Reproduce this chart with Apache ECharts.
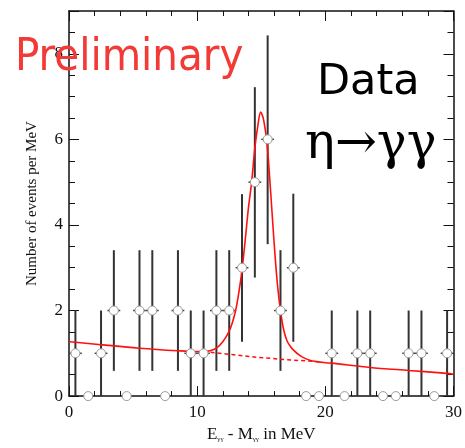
<!DOCTYPE html>
<html>
<head>
<meta charset="utf-8">
<script src="https://cdn.jsdelivr.net/npm/echarts@6/dist/echarts.min.js"></script>
<style>
html,body{margin:0;padding:0;background:#fff;}
#c{width:465px;height:448px;}
</style>
</head>
<body>
<div id="c"></div>
<script>
// ---- data ----
const binCenters = [0.5,1.5,2.5,3.5,4.5,5.5,6.5,7.5,8.5,9.5,10.5,11.5,12.5,13.5,14.5,15.5,16.5,17.5,18.5,19.5,20.5,21.5,22.5,23.5,24.5,25.5,26.5,27.5,28.5,29.5];
const counts     = [1,0,1,2,0,2,2,0,2,1,1,2,2,3,5,6,2,3,0,0,1,0,1,1,0,0,1,1,0,1];
const errLow     = [0,0,0,0.59,0,0.59,0.59,0,0.59,0,0,0.59,0.59,1.27,2.77,3.55,0.59,1.27,0,0,0,0,0,0,0,0,0,0,0,0];
const errHigh    = [2,0,2,3.41,0,3.41,3.41,0,3.41,2,2,3.41,3.41,4.72,7.22,8.43,3.41,4.73,0,0,2,0,2,2,0,0,2,2,0,2];
const binHalfWidth = 0.5;

const fitX = [0,0.5,2.5,5.5,8.5,10,10.5,11,11.5,12,12.5,12.75,13,13.25,13.5,13.75,14,14.25,14.5,14.75,14.95,15.15,15.35,15.5,15.75,16,16.25,16.5,16.75,17,17.25,17.5,18,18.5,19,20,20.5,23.5,26.5,29.5,30];
const fitY = [1.27,1.26,1.20,1.12,1.06,1.04,1.04,1.06,1.12,1.27,1.52,1.72,2.0,2.42,2.95,3.65,4.4,5.0,5.8,6.35,6.64,6.5,6.15,5.75,4.7,3.6,2.65,2.0,1.55,1.3,1.17,1.08,0.95,0.87,0.82,0.78,0.77,0.67,0.60,0.53,0.51];

const bgX = [10.5,12.5,14.6,17,19.7];
const bgY = [1.04,0.975,0.91,0.85,0.80];

const xTicks = [0,10,20,30];
const yTicks = [0,2,4,6,8];

// ---- chart ----
const chart = echarts.init(document.getElementById('c'), null, {renderer:'canvas'});
const serif = 'Liberation Serif, Times New Roman, serif';

const errData = binCenters.map((x,i)=>[x, counts[i], errLow[i], errHigh[i]]);
const pts = binCenters.map((x,i)=>[x, counts[i]]);
const fit = fitX.map((x,i)=>[x, fitY[i]]);
const bg = bgX.map((x,i)=>[x, bgY[i]]);

function axisCommon(extra){
  return Object.assign({
    type:'value',
    axisLine:{show:true, onZero:false, lineStyle:{color:'#111', width:1.5}},
    axisTick:{show:true, inside:true, length:10, lineStyle:{color:'#111', width:1}},
    minorTick:{show:true, length:5, lineStyle:{color:'#111', width:1}},
    splitLine:{show:false},
    minorSplitLine:{show:false}
  }, extra);
}

const option = {
  animation:false,
  backgroundColor:'#fff',
  grid:{left:69, right:3, top:11, bottom:42, containLabel:false},
  xAxis:[
    axisCommon({
      position:'bottom', min:0, max:30, interval:10,
      minorTick:{show:true, splitNumber:5, length:5, lineStyle:{color:'#111'}},
      axisLabel:{show:true, margin:8, color:'#111', fontFamily:serif, fontSize:17,
        formatter:(v)=> xTicks.indexOf(v)>=0 ? String(v) : ''},
      name:'E{sub|γγ} - M{sub|γγ} in MeV',
      nameLocation:'middle', nameGap:23,
      nameTextStyle:{color:'#111', fontFamily:serif, fontSize:17,
        rich:{sub:{fontFamily:serif, fontSize:7, color:'#111', padding:[10,0,0,0]}}}
    }),
    axisCommon({
      position:'top', min:0, max:30, interval:10,
      minorTick:{show:true, splitNumber:5, length:5, lineStyle:{color:'#111'}},
      axisLabel:{show:false}
    })
  ],
  yAxis:[
    axisCommon({
      position:'left', min:0, max:9, interval:2,
      minorTick:{show:true, splitNumber:4, length:6, lineStyle:{color:'#111'}},
      axisLabel:{show:true, margin:6, color:'#111', fontFamily:serif, fontSize:17,
        formatter:(v)=> yTicks.indexOf(v)>=0 ? String(v) : ''},
      name:'Number of events per MeV',
      nameLocation:'middle', nameRotate:90, nameGap:29,
      nameTextStyle:{color:'#111', fontFamily:serif, fontSize:15}
    }),
    axisCommon({
      position:'right', min:0, max:9, interval:2,
      minorTick:{show:true, splitNumber:4, length:6, lineStyle:{color:'#111'}},
      axisLabel:{show:false}
    })
  ],
  series:[
    {
      type:'custom', xAxisIndex:0, yAxisIndex:0, z:2,
      data:errData,
      renderItem:function(params, api){
        const x = api.value(0), y = api.value(1), lo = api.value(2), hi = api.value(3);
        const children = [];
        if (hi > lo) {
          const a = api.coord([x, lo]), b = api.coord([x, hi]);
          children.push({type:'line', shape:{x1:a[0], y1:a[1], x2:b[0], y2:b[1]},
            style:{stroke:'#333', lineWidth:2}});
        }
        if (y > 0) {
          const l = api.coord([x - binHalfWidth, y]), r = api.coord([x + binHalfWidth, y]);
          children.push({type:'line', shape:{x1:l[0], y1:l[1], x2:r[0], y2:r[1]},
            style:{stroke:'#444', lineWidth:1.5}});
        }
        return {type:'group', children:children};
      }
    },
    {
      type:'line', data:bg, xAxisIndex:0, yAxisIndex:0, z:3,
      showSymbol:false, symbol:'none',
      lineStyle:{color:'#ff1010', width:1.5, type:[4,3]}
    },
    {
      type:'line', data:fit, xAxisIndex:0, yAxisIndex:0, z:4,
      showSymbol:false, symbol:'none', smooth:0.3,
      lineStyle:{color:'#ff1010', width:1.6}
    },
    {
      type:'scatter', data:pts, xAxisIndex:0, yAxisIndex:0, z:5,
      symbol:'circle', symbolSize:9,
      itemStyle:{color:'#fff', borderColor:'#9a9a9a', borderWidth:1, opacity:1}
    }
  ],
  graphic:[
    {type:'text', left:15, top:36, z:100,
      style:{text:'Preliminary', fill:'#f23b37', font:'45px "DejaVu Sans Condensed", "DejaVu Sans", sans-serif'}},
    {type:'text', left:317, top:61, z:100,
      style:{text:'Data', fill:'#000', font:'43px "DejaVu Sans", sans-serif'}},
    {type:'text', left:305, top:120, z:100,
      style:{text:'η→γγ', fill:'#000', font:'50px "DejaVu Serif", serif'}}
  ]
};
chart.setOption(option);
</script>
</body>
</html>
